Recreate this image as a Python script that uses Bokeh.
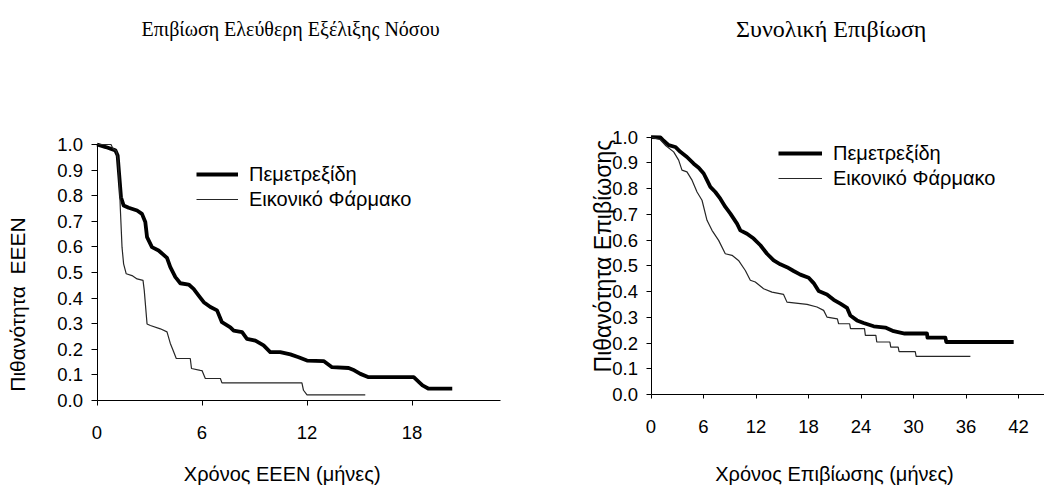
import math
from bokeh.plotting import figure
from bokeh.layouts import row
from bokeh.models import Range1d, FixedTicker, NumeralTickFormatter, Label, Legend, LegendItem
from bokeh.embed import file_html
from bokeh.resources import INLINE

# ---------------- data ----------------
title_pfs = "Επιβίωση Ελεύθερη Εξέλιξης Νόσου"
title_os = "Συνολική Επιβίωση"
xlabel_pfs = "Χρόνος ΕΕΕΝ (μήνες)"
xlabel_os = "Χρόνος Επιβίωσης (μήνες)"
ylabel_pfs = "Πιθανότητα\u00a0 ΕΕΕΝ"
ylabel_os = "Πιθανότητα Επιβίωσης"
series_names = ["Πεμετρεξίδη", "Εικονικό Φάρμακο"]

pfs_x_ticks = [0, 6, 12, 18]
os_x_ticks = [0, 6, 12, 18, 24, 30, 36, 42]
y_ticks = [0.0, 0.1, 0.2, 0.3, 0.4, 0.5, 0.6, 0.7, 0.8, 0.9, 1.0]

pfs_pem_t = [0, 0.5, 1.05, 1.18, 1.27, 1.37, 1.52, 1.81, 2.29, 2.57, 2.76, 2.86, 3.14, 3.52, 4.0, 4.19,
             4.48, 4.76, 5.24, 5.52, 5.81, 6.1, 6.48, 6.86, 7.14, 7.62, 7.81, 8.29, 8.57, 9.05, 9.52,
             9.9, 10.47, 11.05, 11.52, 12.0, 12.95, 13.43, 14.38, 14.7, 15.05, 15.52, 18.1, 18.4,
             18.6, 18.95, 20.3]
pfs_pem_s = [1.0, 0.99, 0.977, 0.957, 0.88, 0.794, 0.762, 0.753, 0.742, 0.729, 0.697, 0.638, 0.599,
             0.586, 0.557, 0.521, 0.482, 0.458, 0.453, 0.436, 0.410, 0.384, 0.365, 0.352, 0.306,
             0.286, 0.273, 0.267, 0.241, 0.234, 0.215, 0.189, 0.189, 0.18, 0.169, 0.156, 0.154,
             0.130, 0.127, 0.118, 0.104, 0.091, 0.091, 0.072, 0.059, 0.046, 0.046]

pfs_pla_t = [0, 0.8, 0.9, 1.1, 1.2, 1.28, 1.33, 1.43, 1.52, 1.67, 2.0, 2.29, 2.63, 2.70, 2.86, 3.05,
             3.62, 4.0, 4.19, 4.34, 4.53, 5.33, 5.40, 5.9, 6.0, 6.19, 7.05, 7.14, 11.71, 11.8, 12.0,
             15.33]
pfs_pla_s = [1.0, 1.0, 0.985, 0.975, 0.94, 0.85, 0.755, 0.599, 0.534, 0.495, 0.488, 0.475, 0.469,
             0.43, 0.299, 0.293, 0.280, 0.268, 0.223, 0.197, 0.164, 0.164, 0.125, 0.118, 0.117,
             0.086, 0.086, 0.069, 0.069, 0.04, 0.022, 0.022]

os_pem_t = [0, 1.07, 1.45, 2.02, 2.78, 3.35, 4.11, 4.88, 5.45, 6.02, 6.40, 6.78, 7.35, 7.92, 8.50,
            9.07, 9.83, 10.21, 10.97, 11.73, 12.50, 13.26, 14.02, 14.78, 15.54, 16.30, 17.07, 18.02,
            18.59, 19.16, 20.11, 20.88, 21.64, 22.40, 22.78, 23.54, 24.30, 25.45, 26.78, 27.73,
            29.0, 31.54, 31.6, 33.64, 33.75, 41.45]
os_pem_s = [1.0, 0.999, 0.986, 0.969, 0.962, 0.943, 0.923, 0.897, 0.881, 0.859, 0.833, 0.807, 0.787,
            0.761, 0.729, 0.703, 0.664, 0.638, 0.625, 0.606, 0.580, 0.547, 0.521, 0.506, 0.495,
            0.480, 0.466, 0.454, 0.433, 0.402, 0.389, 0.368, 0.353, 0.337, 0.307, 0.288, 0.278,
            0.265, 0.260, 0.246, 0.237, 0.237, 0.221, 0.221, 0.204, 0.204]

os_pla_t = [0, 1.07, 1.63, 2.59, 3.16, 3.54, 4.11, 4.69, 5.26, 5.83, 6.40, 6.97, 7.73, 8.49, 9.26,
            10.0, 10.78, 11.35, 11.92, 12.87, 13.83, 15.15, 15.54, 17.83, 18.97, 19.73, 20.11, 21.3,
            21.44, 22.7, 22.8, 24.4, 24.5, 25.7, 25.8, 27.3, 27.4, 28.25, 28.35, 30.2, 30.3, 36.5]
os_pla_s = [1.0, 0.99, 0.969, 0.943, 0.911, 0.872, 0.865, 0.833, 0.787, 0.755, 0.677, 0.638, 0.599,
            0.547, 0.541, 0.521, 0.482, 0.444, 0.437, 0.411, 0.398, 0.389, 0.359, 0.350, 0.340,
            0.327, 0.301, 0.294, 0.275, 0.275, 0.256, 0.256, 0.230, 0.230, 0.204, 0.204, 0.184,
            0.184, 0.167, 0.167, 0.148, 0.148]

SANS = "Liberation Sans"
SERIF = "Liberation Serif"
THICK = 3.8
THIN = 1.2
THIN_COLOR = "#262626"
H = 488


def make_fig(width, xr, yr, xticks, x_end_axis, tick_out_x, tick_out_y, xstand):
    p = figure(width=width, height=H, output_backend="svg", toolbar_location=None,
               x_range=Range1d(*xr), y_range=Range1d(*yr),
               min_border_left=0, min_border_right=0, min_border_top=0, min_border_bottom=0,
               background_fill_color="white", border_fill_color="white")
    p.outline_line_color = None
    p.xgrid.grid_line_color = None
    p.ygrid.grid_line_color = None
    p.xaxis.ticker = FixedTicker(ticks=xticks)
    p.yaxis.ticker = FixedTicker(ticks=y_ticks)
    p.yaxis.formatter = NumeralTickFormatter(format="0.0")
    p.xaxis.fixed_location = 0
    p.yaxis.fixed_location = 0
    p.xaxis.bounds = (0, x_end_axis)
    p.yaxis.bounds = (0, 1.0)
    for ax in (p.xaxis, p.yaxis):
        ax.axis_line_color = "black"
        ax.axis_line_width = 1
        ax.major_tick_line_color = "black"
        ax.major_tick_in = 0
        ax.minor_tick_line_color = None
        ax.major_label_text_font = SANS
        ax.major_label_text_font_size = "18.5px"
        ax.major_label_text_color = "black"
    p.xaxis.major_tick_out = tick_out_x
    p.yaxis.major_tick_out = tick_out_y
    p.yaxis.major_label_standoff = 8
    p.xaxis.major_label_standoff = xstand
    return p


def add_text(p, x, y, text, font, size, angle=0.0, baseline="alphabetic"):
    p.add_layout(Label(x=x, y=y, text=text, text_font=font, text_font_size=size,
                       text_align="center", text_baseline=baseline, angle=angle,
                       text_color="black"))


def add_legend(p, r1, r2, loc, gw):
    leg = Legend(items=[LegendItem(label=series_names[0], renderers=[r1]),
                        LegendItem(label=series_names[1], renderers=[r2])],
                 location=loc, glyph_width=gw, glyph_height=10, label_height=24,
                 spacing=1, padding=0, margin=0, label_standoff=11,
                 border_line_color=None, background_fill_alpha=0,
                 label_text_font=SANS, label_text_font_size="20px",
                 label_text_color="black")
    p.add_layout(leg)


# ---------------- left: PFS ----------------
W1 = 560
p1 = make_fig(W1, (-96.5 / 17.5, (W1 - 96.5) / 17.5), (-(H - 400) / 256.0, 1 + 144 / 256.0),
              pfs_x_ticks, 23.05, 5, 6, 20)
r1 = p1.line(pfs_pem_t, pfs_pem_s, line_color="black", line_width=THICK, line_join="round")
r2 = p1.line(pfs_pla_t, pfs_pla_s, line_color=THIN_COLOR, line_width=THIN)
add_legend(p1, r1, r2, (196, H - 211), 42)
add_text(p1, 11.057, 1.452, title_pfs, SERIF, "20px")
add_text(p1, 10.583, -0.289, xlabel_pfs, SANS, "20px")
add_text(p1, -4.543, 0.375, ylabel_pfs, SANS, "21px", angle=math.pi / 2, baseline="middle")

# ---------------- right: OS ----------------
W2 = 484
p2 = make_fig(W2, (-90.5 / 8.75, (W2 - 90.5) / 8.75), (-(H - 394) / 257.3, 1 + 136.7 / 257.3),
              os_x_ticks, (W2 - 90.5) / 8.75, 4, 5, 21)
r3 = p2.line(os_pem_t, os_pem_s, line_color="black", line_width=THICK, line_join="round")
r4 = p2.line(os_pla_t, os_pla_s, line_color=THIN_COLOR, line_width=THIN)
add_legend(p2, r3, r4, (218, H - 190), 44)
add_text(p2, 20.6, 1.421, title_os, SERIF, "24px")
add_text(p2, 20.97, -0.3109, xlabel_os, SANS, "20px")
add_text(p2, -5.43, 0.538, ylabel_os, SANS, "23px", angle=math.pi / 2, baseline="middle")

layout = row(p1, p2)
open("out.html", "w").write(file_html(layout, INLINE))
